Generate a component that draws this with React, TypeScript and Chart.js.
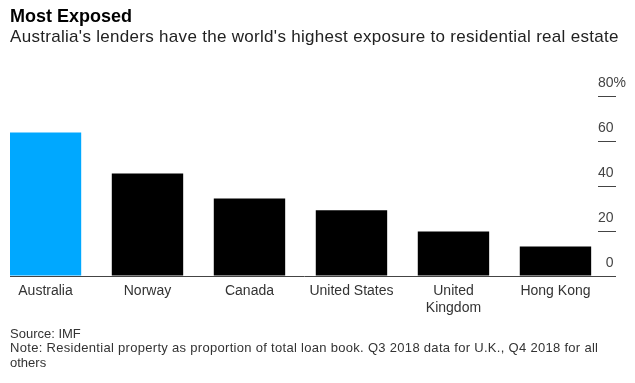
import React, { useEffect, useRef } from 'react';
import { Chart, registerables } from 'chart.js';

Chart.register(...registerables);

// ---- data ----
const categories: string[] = ['Australia', 'Norway', 'Canada', 'United States', 'United Kingdom', 'Hong Kong'];
const categoryLabels: (string | string[])[] = ['Australia', 'Norway', 'Canada', 'United States', ['United', 'Kingdom'], 'Hong Kong'];
const exposure: number[] = [63.8, 45.6, 34.4, 29.2, 19.8, 13.1];
const highlight: string = 'Australia';
const yTickValues: number[] = [0, 20, 40, 60, 80];

const FONT = '"Liberation Sans", Arial, Helvetica, sans-serif';

export default function App() {
  const canvasRef = useRef<HTMLCanvasElement | null>(null);

  useEffect(() => {
    const canvas = canvasRef.current;
    if (!canvas) return;
    Chart.defaults.font.family = FONT;
    const chart = new Chart(canvas, {
      type: 'bar',
      data: {
        datasets: [
          {
            data: exposure.map((v, i) => ({ x: i, y: v })),
            backgroundColor: categories.map((c) => (c === highlight ? '#00A8FF' : '#000000')),
            borderWidth: 0,
            categoryPercentage: 1,
            barPercentage: 0.7,
          } as any,
        ],
      },
      options: {
        responsive: false,
        animation: false,
        layout: { padding: { left: 10, top: 96, right: 0, bottom: 0 } },
        plugins: { legend: { display: false }, tooltip: { enabled: false }, title: { display: false } },
        scales: {
          x: {
            type: 'linear',
            offset: false,
            min: -0.348,
            max: 5.417,
            grid: { display: false, drawTicks: false, offset: false },
            border: { display: true, color: '#444444', width: 1 },
            ticks: {
              stepSize: 1,
              includeBounds: false,
              autoSkip: false,
              maxRotation: 0,
              padding: 7,
              color: '#333333',
              font: { size: 14, lineHeight: 1.2 },
              callback: (v: any) => {
                const lbl = categoryLabels[Math.round(Number(v))];
                return lbl === undefined ? '' : lbl;
              },
            },
            afterFit: (s: any) => {
              s.height = 107;
            },
          } as any,
          y: {
            position: 'right',
            min: 0,
            max: 80,
            afterBuildTicks: (s: any) => {
              s.ticks = yTickValues.map((v) => ({ value: v }));
            },
            grid: { drawOnChartArea: false, drawTicks: true, tickLength: 18, color: '#444444', lineWidth: 1 },
            border: { display: false },
            ticks: {
              padding: -18,
              crossAlign: 'near',
              labelOffset: -13,
              color: '#444444',
              font: { size: 14 },
              callback: (v: any) => {
                const n = Number(v);
                if (n === 80) return '80%';
                if (n === 0) return '\u20070';
                return String(n);
              },
            },
            afterFit: (s: any) => {
              s.width = 37;
            },
          } as any,
        },
      },
    });
    return () => chart.destroy();
  }, []);

  const text = (top: number, size: number, lh: number, extra: React.CSSProperties = {}): React.CSSProperties => ({
    position: 'absolute',
    left: 10,
    top,
    fontFamily: FONT,
    fontSize: size,
    lineHeight: lh + 'px',
    whiteSpace: 'nowrap',
    ...extra,
  });

  return (
    <div style={{ position: 'absolute', left: 0, top: 0, width: 635, height: 383, background: '#ffffff', overflow: 'hidden' }}>
      <canvas ref={canvasRef} width={635} height={383} style={{ position: 'absolute', left: 0, top: 0, width: 635, height: 383 }} />
      <div style={text(5.5, 18, 20, { fontWeight: 'bold', color: '#000000' })}>Most Exposed</div>
      <div style={text(27.4, 17, 20, { color: '#222222', letterSpacing: '0.3px' })}>
        Australia's lenders have the world's highest exposure to residential real estate
      </div>
      <div style={text(326.5, 13, 14.5, { color: '#333333' })}>
        Source: IMF
        <br />
        <span style={{ letterSpacing: '0.3px' }}>
          Note: Residential property as proportion of total loan book. Q3 2018 data for U.K., Q4 2018 for all
        </span>
        <br />
        others
      </div>
    </div>
  );
}
